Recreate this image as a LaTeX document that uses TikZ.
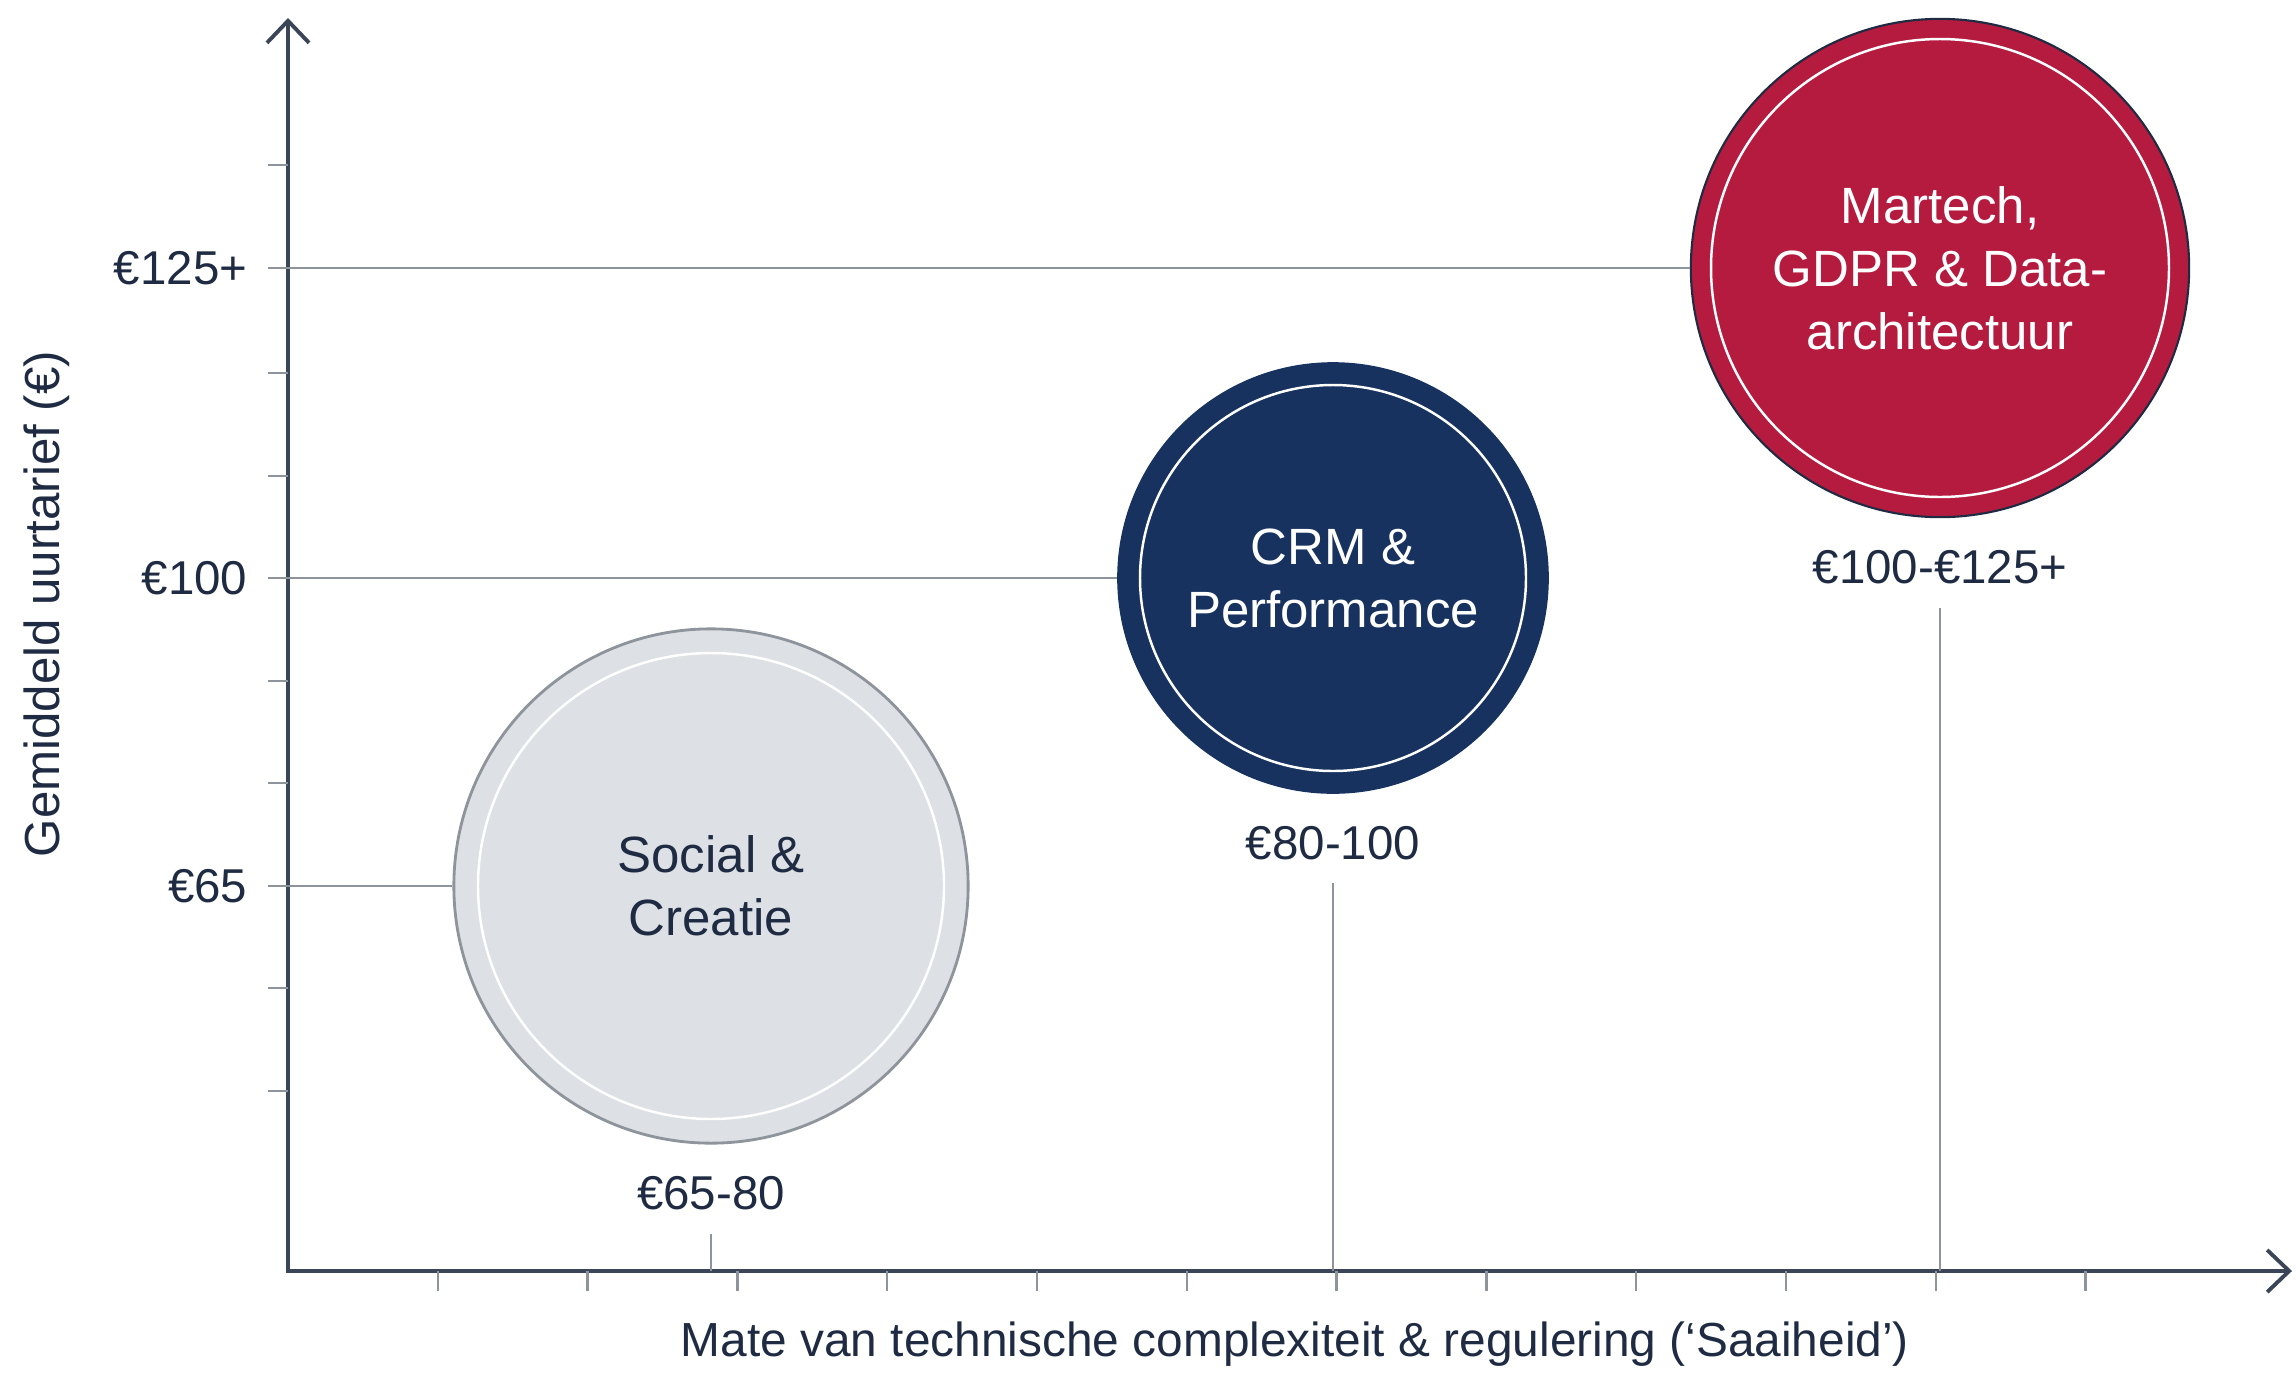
\documentclass[tikz,border=0pt]{standalone}
\usepackage{fontspec}
\setmainfont{Liberation Sans}
\usetikzlibrary{arrows.meta,positioning}

\definecolor{inkc}{HTML}{1E2B42}
\definecolor{axisc}{HTML}{3A4657}
\definecolor{gridc}{HTML}{8E949C}
\definecolor{socfill}{HTML}{DDE0E4}
\definecolor{crmfill}{HTML}{17325F}
\definecolor{marfill}{HTML}{B51B3E}

\tikzset{
  axis/.style={draw=axisc, line width=1.1pt},
  gridln/.style={draw=gridc, line width=0.7pt},
  bubble/.style={circle, inner sep=0pt, align=center, font=\fontsize{14.5}{17.9}\selectfont},
  ring/.style={draw=white, line width=0.7pt},
  tickval/.style={text=inkc, inner sep=0pt, font=\fontsize{13.5}{16}\selectfont},
  rangeval/.style={text=inkc, inner sep=0pt, outer sep=0pt, font=\fontsize{13.5}{16}\selectfont},
}

\begin{document}
\begin{tikzpicture}[x=0.01cm, y=-0.01cm]
  \useasboundingbox (0,0) rectangle (2296,1378);

  % axes
  \coordinate (o) at (288,1271);
  \coordinate (ytop) at (288,18);
  \coordinate (xend) at (2292,1271);
  \draw[axis, {Straight Barb[length=0.22cm, width=0.42cm]}-{Straight Barb[length=0.22cm, width=0.42cm]}] (ytop) -- (o) -- (xend);

  \foreach \k in {1,...,12}
    \draw[gridln] ({288+149.8*\k},1271) -- ++(0,20);
  \foreach \y in {165,373,476,681,783,988,1091}
    \draw[gridln] (268,\y) -- (288,\y);

  % price levels
  \coordinate (t125) at (268,268);
  \coordinate (t100) at (268,578);
  \coordinate (t65) at (268,886);
  \node[tickval, left=0.2cm of t125] (l125) {€125+};
  \node[tickval, left=0.2cm of t100] (l100) {€100};
  \node[tickval, left=0.2cm of t65] (l65) {€65};

  % bubbles
  \node[bubble, fill=socfill, draw=gridc, line width=0.8pt, minimum size=5.14cm, text=inkc] (soc) at (711,886) {Social \&\\Creatie};
  \node[bubble, fill=crmfill, draw=crmfill, minimum size=4.3cm, text=white] (crm) at (1333,578) {CRM \&\\Performance};
  \node[bubble, fill=marfill, draw=inkc, line width=0.6pt, minimum size=4.98cm, text=white] (mar) at (1940,268) {Martech,\\GDPR \& Data-\\architectuur};
  \draw[ring] (soc.center) circle[radius=233];
  \draw[ring] (crm.center) circle[radius=193];
  \draw[ring] (mar.center) circle[radius=229];

  \node[rangeval, below=0.32cm of soc] (socval) {€65-80};
  \node[rangeval, below=0.32cm of crm] (crmval) {€80-100};
  \node[rangeval, below=0.32cm of mar] (marval) {€100-€125+};

  \draw[gridln] (t125) -- (mar.west);
  \draw[gridln] (t100) -- (crm.west);
  \draw[gridln] (t65) -- (soc.west);
  \draw[gridln, shorten <=0.24cm] (socval.south) -- (socval.south |- o);
  \draw[gridln, shorten <=0.24cm] (crmval.south) -- (crmval.south |- o);
  \draw[gridln, shorten <=0.24cm] (marval.south) -- (marval.south |- o);

  % axis titles
  \node[rotate=90, text=inkc, font=\fontsize{14}{16}\selectfont] (ylab) at (47,604) {Gemiddeld uurtarief (€)};
  \node[text=inkc, font=\fontsize{13.6}{16}\selectfont] (xlab) at (1295,1344) {Mate van technische complexiteit \& regulering (`Saaiheid')};
\end{tikzpicture}
\end{document}
